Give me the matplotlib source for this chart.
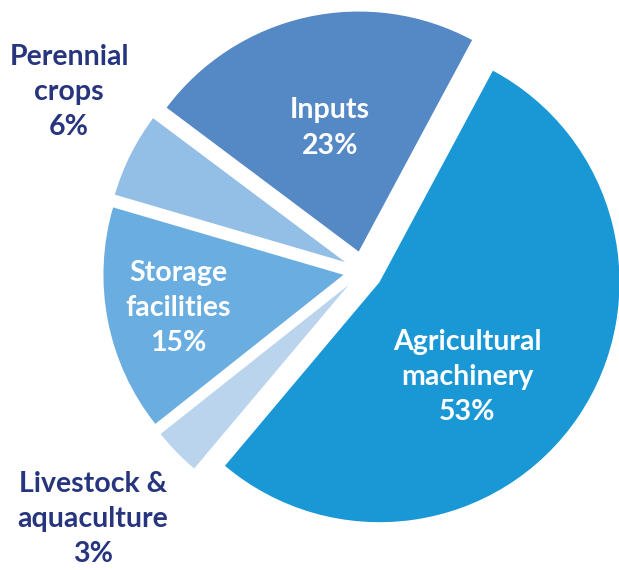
import matplotlib
matplotlib.use('Agg')
import matplotlib.pyplot as plt

# ── data (clockwise from the top-right gap) ──────────────────────────────────
categories = ['Agricultural\nmachinery', 'Livestock &\naquaculture', 'Storage\nfacilities',
              'Perennial\ncrops', 'Inputs']
shares = [53.3, 3.2, 15.2, 5.7, 22.6]
pct_labels = ['53%', '3%', '15%', '6%', '23%']

colors = ['#1A97D5', '#BBD4EE', '#6AADE0', '#93BFE7', '#5589C6']
NAVY = '#27357F'

plt.rcParams['font.family'] = ['Lato', 'DejaVu Sans']

fig = plt.figure(figsize=(6.19, 5.70), dpi=100)
ax = fig.add_axes([0, 0, 1, 1])

R_PX = 240.0          # pie radius in pixels
CX, CY = 363.0, 271.0  # pie centre in pixels (from top-left)

wedges, _ = ax.pie(shares, colors=colors, startangle=61.8, counterclock=False,
                   explode=[0.083] * len(shares), radius=1.0,
                   wedgeprops=dict(linewidth=0))

ax.set_xlim(-CX / R_PX, (619 - CX) / R_PX)
ax.set_ylim(-(570 - CY) / R_PX, CY / R_PX)
ax.set_aspect('auto')
ax.axis('off')


def px(x, y):
    return (x - CX) / R_PX, (CY - y) / R_PX


# label block centres (pixels) and colours
label_pos = [(467, 377), (93, 519), (178, 308), (69, 92), (330, 128)]
label_col = ['white', NAVY, 'white', NAVY, 'white']

for cat, pct, (lx, ly), col in zip(categories, pct_labels, label_pos, label_col):
    x, y = px(lx, ly)
    ax.text(x, y, f'{cat}\n{pct}', ha='center', va='center', color=col,
            fontsize=20.5, fontweight='bold', linespacing=1.45)

fig.savefig('out.png', dpi=100)
